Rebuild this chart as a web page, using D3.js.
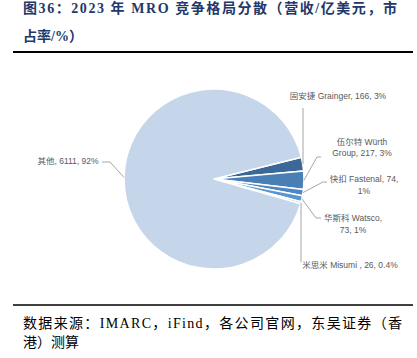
<!DOCTYPE html>
<html><head><meta charset="utf-8">
<script src="https://cdn.jsdelivr.net/npm/d3@7"></script>
<style>
html,body{margin:0;padding:0;background:#fff;}
svg{display:block;}
</style></head>
<body>
<svg id="c" width="417" height="358"></svg>
<script>
const names = ["固安捷 Grainger", "伍尔特 Würth Group", "快扣 Fastenal", "华斯科 Watsco", "米思米 Misumi", "其他"];
const values = [166, 217, 74, 73, 26, 6111];
const shares = ["3%", "3%", "1%", "1%", "0.4%", "92%"];
const colors = ["#3b6898", "#4a7fb6", "#4d86c2", "#5b95d0", "#7eaede", "#c5d5ea"];
// label lines as displayed
const labelLines = [
  ["固安捷 Grainger, 166, 3%"],
  ["伍尔特 Würth", "Group, 217, 3%"],
  ["快扣 Fastenal, 74,", "1%"],
  ["华斯科 Watsco,", "73, 1%"],
  ["米思米 Misumi , 26, 0.4%"],
  ["其他, 6111, 92%"]
];

const svg = d3.select("#c");
const serif = "'Liberation Serif','Noto Sans CJK SC',serif";
const sans = "'Liberation Sans','Noto Sans CJK SC',sans-serif";

// Title
const title = svg.append("g").attr("fill", "#23386a").attr("font-family", serif).attr("font-weight", "bold").attr("font-size", 14);
title.append("text").attr("x", 23).attr("y", 13).attr("textLength", 374).attr("lengthAdjust", "spacing")
  .text("图36：2023 年 MRO 竞争格局分散（营收/亿美元，市");
title.append("text").attr("x", 23).attr("y", 41).text("占率/%）");
svg.append("line").attr("x1", 13).attr("x2", 413).attr("y1", 52).attr("y2", 52).attr("stroke", "#000").attr("stroke-width", 2);

// Footer
svg.append("line").attr("x1", 13).attr("x2", 413).attr("y1", 305).attr("y2", 305).attr("stroke", "#000").attr("stroke-width", 1.5);
const foot = svg.append("g").attr("fill", "#000").attr("font-family", serif).attr("font-size", 14);
foot.append("text").attr("x", 23).attr("y", 328).attr("textLength", 379).attr("lengthAdjust", "spacing")
  .text("数据来源：IMARC，iFind，各公司官网，东吴证券（香");
foot.append("text").attr("x", 23).attr("y", 347).text("港）测算");

// Pie
const cx = 214, cy = 179, r = 90;
const pie = d3.pie().sort(null).value(d => d).startAngle(76 * Math.PI / 180).endAngle(76 * Math.PI / 180 + 2 * Math.PI);
const arcs = pie(values);
const arc = d3.arc().innerRadius(0).outerRadius(r);
const g = svg.append("g").attr("transform", `translate(${cx},${cy})`);
g.selectAll("path").data(arcs).join("path")
  .attr("d", arc)
  .attr("fill", (d, i) => colors[i])
  .attr("stroke", "#fff").attr("stroke-width", 1.5).attr("stroke-linejoin", "round");

// Labels
const lab = svg.append("g").attr("fill", "#595959").attr("font-family", sans).attr("font-size", 8.5);
const lx = [338, 362, 364, 353, 350, 68];
const ly = [96, 141.5, 179, 218, 265, 161];
const anchors = ["middle", "middle", "middle", "middle", "middle", "middle"];
labelLines.forEach((lines, i) => {
  lines.forEach((t, j) => {
    lab.append("text").attr("x", lx[i] + (i === 2 && j === 0 ? 0 : 0)).attr("y", ly[i] + j * 11.5)
      .attr("text-anchor", anchors[i]).attr("dominant-baseline", "central").text(t);
  });
});

// Leader lines from arc edge
function edge(i) {
  const a = (arcs[i].startAngle + arcs[i].endAngle) / 2;
  return [cx + r * Math.sin(a), cy - r * Math.cos(a)];
}
const leaders = [
  [[303, 108], [303, 0]],
  [[321, 157], [317, 157], [0, 0]],
  [[327, 182], [323, 182], [0, 0]],
  [[321, 218], [316, 218], [0, 0]],
  [[301, 262], [0, 0]],
  [[102, 162], [110, 162], [0, 0]]
];
const lines = svg.append("g").attr("fill", "none").attr("stroke", "#a6a6a6").attr("stroke-width", 1);
leaders.forEach((pts, i) => {
  const e = edge(i);
  const p = pts.map(q => q.slice());
  p[p.length - 1] = e;
  if (i === 0) { p[1] = [p[0][0], e[1]]; }
  if (i === 4) { p[1] = [p[0][0], e[1]]; }
  lines.append("path").attr("d", d3.line()(p));
});
</script>
</body></html>
